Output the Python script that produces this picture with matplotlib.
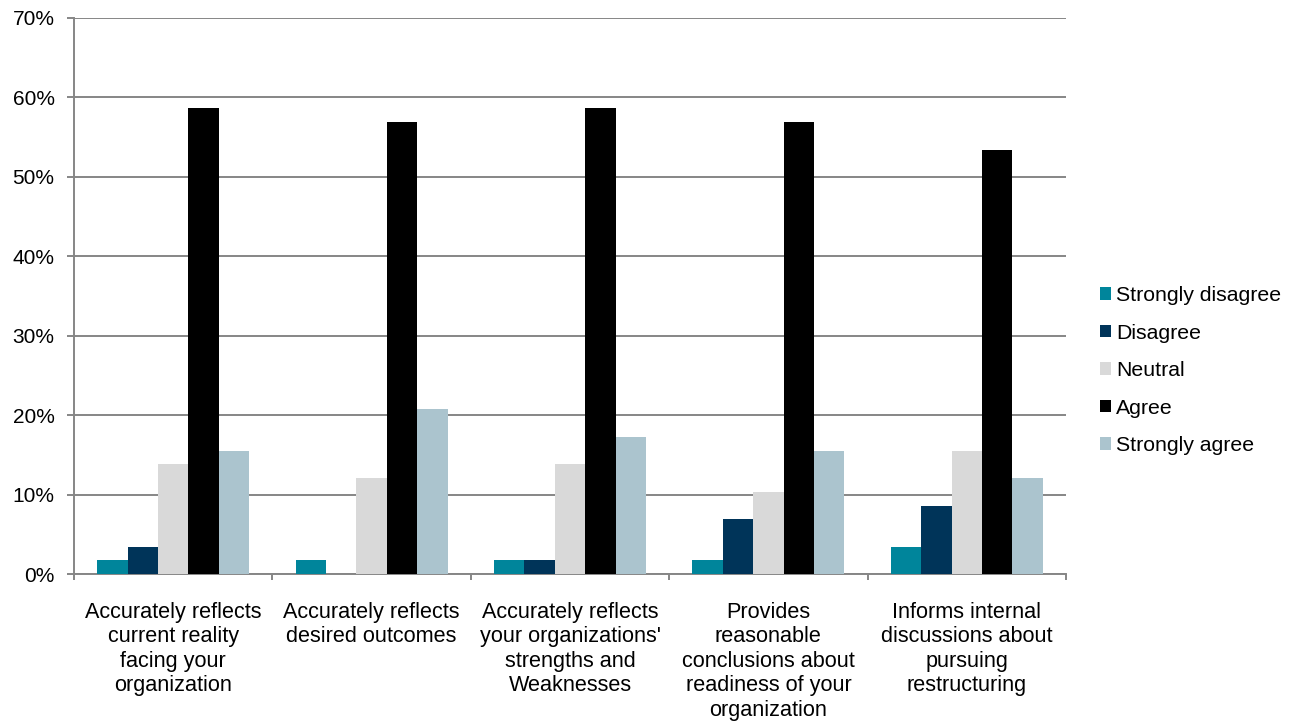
import matplotlib
matplotlib.use("Agg")
import matplotlib.pyplot as plt
import numpy as np
from matplotlib.ticker import FixedLocator, PercentFormatter

plt.rcParams['font.family'] = ['Liberation Sans', 'DejaVu Sans']

categories = [
    "Accurately reflects\ncurrent reality\nfacing your\norganization",
    "Accurately reflects\ndesired outcomes",
    "Accurately reflects\nyour organizations'\nstrengths and\nWeaknesses",
    "Provides\nreasonable\nconclusions about\nreadiness of your\norganization",
    "Informs internal\ndiscussions about\npursuing\nrestructuring",
]
series_names = ["Strongly disagree", "Disagree", "Neutral", "Agree", "Strongly agree"]
strongly_disagree = [1.7, 1.7, 1.7, 1.7, 3.4]
disagree = [3.4, 0.0, 1.7, 6.9, 8.6]
neutral = [13.8, 12.1, 13.8, 10.3, 15.5]
agree = [58.6, 56.9, 58.6, 56.9, 53.4]
strongly_agree = [15.5, 20.7, 17.2, 15.5, 12.1]
colors = ["#00859B", "#003459", "#D9D9D9", "#000000", "#ABC4CE"]

series = [strongly_disagree, disagree, neutral, agree, strongly_agree]

FS = 15
fig = plt.figure(figsize=(13.04, 7.21), dpi=100)
ax = fig.add_axes([74 / 1304, 1 - 574 / 721, 992 / 1304, (574 - 17.7) / 721])

x = np.arange(len(categories))
w = 0.1534
for i, (vals, name, c) in enumerate(zip(series, series_names, colors)):
    ax.bar(x + (i - 2) * w, vals, width=w, color=c, label=name, zorder=3)

ax.set_xlim(-0.5, len(categories) - 0.5)
ax.set_ylim(0, 70)
ax.set_yticks(np.arange(0, 71, 10))
ax.yaxis.set_major_formatter(PercentFormatter(decimals=0))
ax.grid(axis='y', color='#868686', linewidth=1.4, zorder=0)

ax.set_xticks(x)
ax.set_xticklabels(categories, fontsize=15.6, linespacing=1.22)
ax.tick_params(axis='x', which='major', length=0, pad=20)
ax.xaxis.set_minor_locator(FixedLocator(np.arange(-0.5, len(categories), 1)))
ax.tick_params(axis='x', which='minor', length=4.5, width=1.4, color='#868686', direction='out')
ax.tick_params(axis='y', length=5, width=1.4, color='#868686', labelsize=FS, pad=9)

for s in ['top', 'right']:
    ax.spines[s].set_visible(False)
for s in ['left', 'bottom']:
    ax.spines[s].set_color('#868686')
    ax.spines[s].set_linewidth(1.4)

leg = ax.legend(loc='center left', bbox_to_anchor=(1.015, 0.3656), frameon=False,
                fontsize=15.3, handlelength=0.52, handleheight=0.52, handletextpad=0.25,
                labelspacing=0.87)

fig.savefig("out.png", dpi=100)
